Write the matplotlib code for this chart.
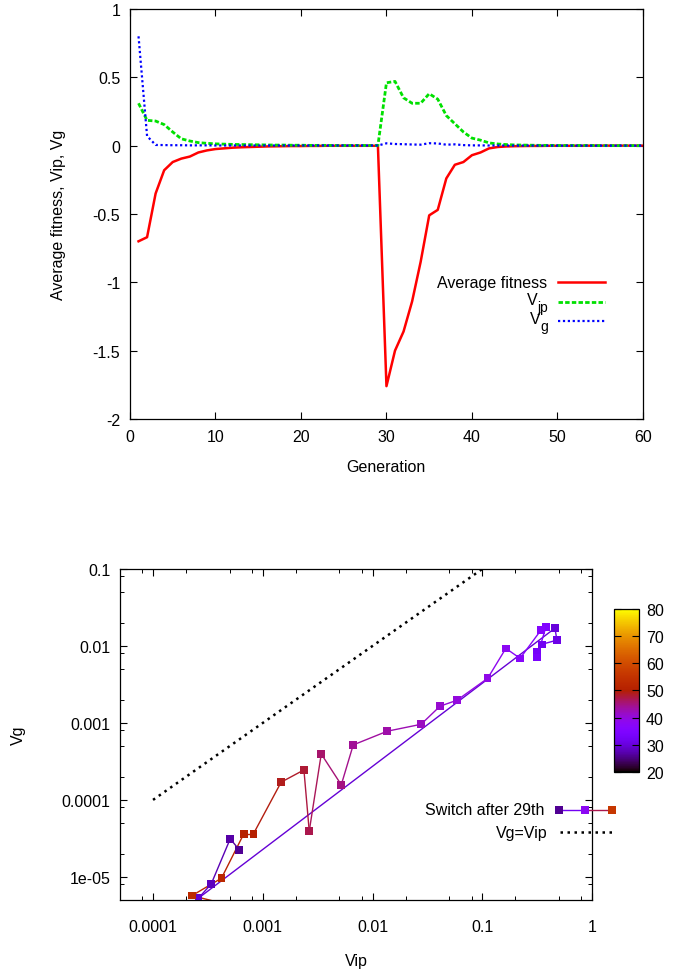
import numpy as np
import matplotlib
matplotlib.use("Agg")
import matplotlib.pyplot as plt
from matplotlib.collections import LineCollection
from matplotlib.colors import Normalize
from matplotlib.ticker import FixedLocator, FixedFormatter, LogLocator, NullFormatter

plt.rcParams["font.family"] = ["Liberation Sans", "DejaVu Sans"]

# ---- top panel: per-generation averages ----
generation = np.arange(1, 61)
avg_fitness = [-0.70, -0.67, -0.35, -0.18, -0.12, -0.095, -0.08, -0.05, -0.035, -0.025,
               -0.02, -0.015, -0.012, -0.01, -0.008, -0.006, -0.005, -0.004, -0.003, -0.003,
               -0.002, -0.002, -0.001, -0.001, -0.001, -0.001, -0.001, -0.001, -0.001, -1.76,
               -1.50, -1.36, -1.14, -0.85, -0.51, -0.47, -0.24, -0.14, -0.12, -0.07,
               -0.05, -0.02, -0.01, -0.006, -0.004, -0.003, -0.002, -0.002, -0.001, -0.001,
               -0.001, -0.001, -0.001, 0.0, 0.0, 0.0, 0.0, 0.0, 0.0, 0.0]
v_jp = [0.31, 0.185, 0.18, 0.154, 0.10, 0.05, 0.034, 0.022, 0.017, 0.013,
        0.011, 0.009, 0.008, 0.007, 0.006, 0.005, 0.004, 0.004, 0.003, 0.003,
        0.002, 0.002, 0.002, 0.001, 0.001, 0.001, 0.001, 0.001, 0.001, 0.46,
        0.47, 0.35, 0.31, 0.31, 0.38, 0.34, 0.22, 0.16, 0.10, 0.055,
        0.04, 0.02, 0.012, 0.008, 0.005, 0.004, 0.003, 0.002, 0.002, 0.001,
        0.001, 0.001, 0.001, 0.001, 0.0, 0.0, 0.0, 0.0, 0.0, 0.0]
v_g = [0.80, 0.07, 0.005, 0.004, 0.003, 0.003, 0.002, 0.002, 0.002, 0.001,
       0.001, 0.001, 0.001, 0.001, 0.001, 0.001, 0.001, 0.001, 0.001, 0.001,
       0.001, 0.001, 0.001, 0.001, 0.001, 0.001, 0.001, 0.001, 0.001, 0.017,
       0.012, 0.0105, 0.0083, 0.0071, 0.0177, 0.016, 0.0069, 0.0093, 0.0038, 0.002,
       0.0017, 0.001, 0.0008, 0.0005, 0.0002, 0.0002, 0.0001, 0.0001, 0.0, 0.0,
       0.0, 0.0, 0.0, 0.0, 0.0, 0.0, 0.0, 0.0, 0.0, 0.0]

# ---- bottom panel: trajectory around the switch ----
traj_gen = [26, 27, 28, 29, 30, 31, 32, 33, 34, 35, 36, 37, 38, 39, 40,
            41, 42, 43, 44, 45, 46, 47, 48, 49, 50, 51, 52, 53, 54]
traj_vip = [6.1e-4, 5.05e-4, 3.39e-4, 2.6e-4, 0.459, 0.479, 0.349, 0.315, 0.315, 0.380,
            0.342, 0.221, 0.164, 0.112, 0.0588, 0.0412, 0.0277, 0.0136, 0.00667, 0.00519,
            0.00341, 0.00265, 0.00237, 0.00147, 0.00082, 0.00067, 0.00042, 0.000226, 0.0005]
traj_vg = [2.25e-5, 3.12e-5, 8.1e-6, 5.3e-6, 0.0170, 0.0119, 0.0105, 0.0083, 0.0071, 0.0177,
           0.0160, 0.0069, 0.0093, 0.0038, 0.00197, 0.00165, 0.00096, 0.00078, 0.000518, 0.000157,
           0.000395, 3.93e-5, 2.45e-4, 1.70e-4, 3.6e-5, 3.6e-5, 9.6e-6, 5.7e-6, 4.3e-6]
diag_vip = [1e-4, 0.1]
legend_gen = [26, 38, 56]

x_ticks = [1e-4, 1e-3, 1e-2, 1e-1, 1]
x_labels = ["0.0001", "0.001", "0.01", "0.1", "1"]
y_ticks = [1e-5, 1e-4, 1e-3, 1e-2, 1e-1]
y_labels = ["1e-05", "0.0001", "0.001", "0.01", "0.1"]
cb_ticks = [20, 30, 40, 50, 60, 70, 80]

FS = 11.5
fig = plt.figure(figsize=(6.78, 9.78), dpi=100)

# ================= top panel =================
ax1 = fig.add_axes([0.1917, 0.5706, 0.7566, 0.4192])
ax1.plot(generation, avg_fitness, color="#ff0000", lw=1.8)
ax1.plot(generation, v_jp, color="#00e000", lw=2.0, ls=(0, (1.6, 0.8)))
ax1.plot(generation, v_g, color="#0000ff", lw=1.6, ls=(0, (1, 1.2)))
ax1.set_xlim(0, 60)
ax1.set_ylim(-2, 1)
ax1.set_xticks(range(0, 61, 10))
ax1.set_yticks([-2, -1.5, -1, -0.5, 0, 0.5, 1])
ax1.set_yticklabels(["-2", "-1.5", "-1", "-0.5", "0", "0.5", "1"])
ax1.tick_params(direction="in", top=True, right=True, length=5, width=0.8,
                labelsize=FS, pad=7)
for s in ax1.spines.values():
    s.set_linewidth(0.9)

# hand-placed gnuplot style key
tr = ax1.transAxes
ax1.plot([0.834, 0.926], [0.334, 0.334], transform=tr, color="#ff0000", lw=1.8)
ax1.plot([0.834, 0.926], [0.285, 0.285], transform=tr, color="#00e000", lw=2.0,
         ls=(0, (1.6, 0.8)))
ax1.plot([0.834, 0.926], [0.239, 0.239], transform=tr, color="#0000ff", lw=1.6,
         ls=(0, (1, 1.2)))
ax1.text(0.813, 0.334, "Average fitness", transform=tr, ha="right", va="center", fontsize=FS)

# V with gnuplot-like subscript: subscript placed first, V set to its left
fig.canvas.draw()
renderer = fig.canvas.get_renderer()
for sub, ky in (("jp", 0.285), ("g", 0.239)):
    t_sub = ax1.annotate(sub, xy=(0.815, ky), xycoords=tr, xytext=(0, -3.5),
                         textcoords="offset points", ha="right", va="center",
                         fontsize=10)
    bb = t_sub.get_window_extent(renderer)
    x_left = ax1.transAxes.inverted().transform((bb.x0, bb.y0))[0]
    ax1.annotate("V", xy=(x_left, ky), xycoords=tr, xytext=(0.5, 2),
                 textcoords="offset points", ha="right", va="center", fontsize=FS)

fig.text(58 / 678, 1 - 215 / 978, "Average fitness, Vip, Vg", rotation=90,
         ha="center", va="center", fontsize=FS)
fig.text(386 / 678, 1 - 468 / 978, "Generation", ha="center", va="center", fontsize=FS)

# ================= bottom panel =================
ax2 = fig.add_axes([0.1770, 0.0787, 0.6962, 0.3385])
ax2.set_xscale("log")
ax2.set_yscale("log")
ax2.set_xlim(5e-5, 1)
ax2.set_ylim(5e-6, 0.1)

cmap = plt.get_cmap("gnuplot")
norm = Normalize(vmin=20, vmax=80)

pts = np.column_stack([traj_vip, traj_vg])
segs = np.stack([pts[:-1], pts[1:]], axis=1)
seg_val = (np.array(traj_gen[:-1]) + np.array(traj_gen[1:])) / 2.0
lc = LineCollection(segs, colors=cmap(norm(seg_val)), linewidths=1.0, zorder=2)
ax2.add_collection(lc)
sc = ax2.scatter(traj_vip, traj_vg, c=traj_gen, cmap=cmap, norm=norm, marker="s",
                 s=30, linewidths=0, zorder=3)

ax2.plot(diag_vip, diag_vip, color="black", lw=1.8, ls=(0, (1, 1.8)),
         dash_capstyle="butt")

ax2.xaxis.set_major_locator(FixedLocator(x_ticks))
ax2.xaxis.set_major_formatter(FixedFormatter(x_labels))
ax2.yaxis.set_major_locator(FixedLocator(y_ticks))
ax2.yaxis.set_major_formatter(FixedFormatter(y_labels))
ax2.xaxis.set_minor_locator(LogLocator(base=10, subs=(2, 5, 8), numticks=20))
ax2.yaxis.set_minor_locator(LogLocator(base=10, subs=(2, 5, 8), numticks=20))
ax2.xaxis.set_minor_formatter(NullFormatter())
ax2.yaxis.set_minor_formatter(NullFormatter())
ax2.tick_params(which="major", direction="in", top=True, right=True, length=5,
                width=0.8, labelsize=FS)
ax2.tick_params(which="minor", direction="in", top=True, right=True, length=3,
                width=0.7)
ax2.tick_params(axis="x", which="major", pad=14)
ax2.tick_params(axis="y", which="major", pad=7)
for s in ax2.spines.values():
    s.set_linewidth(0.9)

# key
tr2 = ax2.transAxes
lx = [0.930, 0.986, 1.042]
for i in range(2):
    c = cmap(norm((legend_gen[i] + legend_gen[i + 1]) / 2.0))
    ax2.plot(lx[i:i + 2], [0.272, 0.272], transform=tr2, color=c, lw=1.0,
             clip_on=False, zorder=4)
for i in range(3):
    ax2.plot([lx[i]], [0.272], transform=tr2, marker="s", ms=5.2, mew=0,
             color=cmap(norm(legend_gen[i])), clip_on=False, zorder=5)
ax2.text(0.898, 0.272, "Switch after 29th", transform=tr2, ha="right", va="center",
         fontsize=FS)
ax2.plot([0.932, 1.042], [0.205, 0.205], transform=tr2, color="black", lw=1.8,
         ls=(0, (1, 1.8)), dash_capstyle="butt", clip_on=False)
ax2.text(0.905, 0.205, "Vg=Vip", transform=tr2, ha="right", va="center", fontsize=FS)

fig.text(18 / 678, 1 - 735 / 978, "Vg", rotation=90, ha="center", va="center", fontsize=FS)
fig.text(356 / 678, 1 - 962 / 978, "Vip", ha="center", va="center", fontsize=FS)

# colour box
cax = fig.add_axes([0.9056, 0.2096, 0.0369, 0.1667])
cb = fig.colorbar(sc, cax=cax)
cb.set_ticks(cb_ticks)
cb.outline.set_linewidth(0.9)
cax.tick_params(direction="in", left=True, right=True, length=5, width=0.8,
                labelsize=FS, pad=5)

fig.savefig("out.png", dpi=100)
